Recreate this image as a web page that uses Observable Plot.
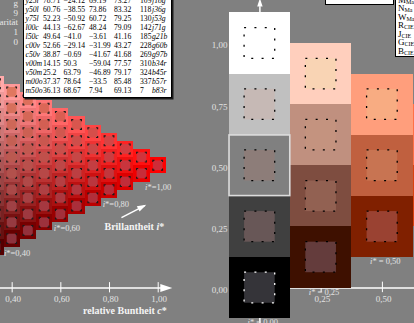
<!DOCTYPE html>
<html>
<head>
<meta charset="utf-8">
<script src="https://cdn.jsdelivr.net/npm/d3@7"></script>
<script src="https://cdn.jsdelivr.net/npm/@observablehq/plot@0.6"></script>
<style>
  html, body { margin: 0; padding: 0; background: #808080; }
  #chart { position: relative; width: 414px; height: 323px; overflow: hidden; background: #808080;
           font-family: "Liberation Serif", "DejaVu Serif", serif; }
  #chart svg { position: absolute; left: 0; top: 0; }
  .tbl { position: absolute; left: 23px; top: -5px; background: #fff; border: 1px solid #000;
         box-shadow: 1.5px 1.5px 0 #1a1a1a; padding: 0 2px 2px 1.5px; font-size: 7.7px; line-height: 9px; color: #000; }
  .tbl .row { display: grid; grid-template-columns: 17.5px 20.5px 25.5px 25px 26px 12px 17px; white-space: nowrap; }
  .tbl .code, .tbl .name { font-style: italic; }
  .legend { position: absolute; left: 395px; top: -5.5px; width: 40px; background: #fff; border: 1px solid #000;
            font-size: 9px; line-height: 8.5px; padding: 0 0 0.5px 2px; color: #000; }
  .legend sub { font-size: 6px; vertical-align: -1px; line-height: 0; }
  .topbox { position: absolute; left: 325px; top: -10px; width: 67px; height: 13px; background: #fff; border: 1px solid #000; }
  .frag { position: absolute; right: 396px; top: -1px; text-align: right; color: #e8e8e8; font-size: 9px; line-height: 9.7px; white-space: nowrap; }
</style>
</head>
<body>
<div id="chart"></div>
<script>
// ---------- hue triangle (CIE red), 15 steps of relative chroma c* ----------
const chromaLevels = [15, 14, 13, 12, 11, 10, 9, 8, 7, 6, 5]; // c* = level / 15
const triSteps = 15;
const redOuter = [255, 0, 0], whiteOuter = [255, 255, 255], blackOuter = [0, 0, 0];
const redInner = [206, 44, 56], whiteInner = [236, 170, 122], blackInner = [98, 54, 64];
const triTicks = [0.4, 0.6, 0.8, 1.0];
const iStarLabels = [1.0, 0.8, 0.6, 0.4];
const iStarLabelC = [1.0, 0.826, 0.625, 0.42];
const iStarLabelT = [0.411, 0.342, 0.243, 0.141];

// ---------- grey and orange-red series, 4 steps ----------
const patchC = [0, 0, 0, 0, 0, 0.25, 0.25, 0.25, 0.25, 0.5, 0.5, 0.5, 0.75, 0.75];
const patchT = [1, 0.75, 0.5, 0.25, 0, 0.875, 0.625, 0.375, 0.125, 0.75, 0.5, 0.25, 0.625, 0.375];
const patchFill = ["#ffffff", "#c0c0c0", "#808080", "#404040", "#000000",
                   "#ffcfbd", "#c0907f", "#7e4d40", "#3e1000",
                   "#ff9e7c", "#c0603f", "#802000",
                   "#ff7046", "#da4210"];
const patchInner = ["#ffffff", "#c6b9b5", "#8d7d79", "#685757", "#353439",
                    "#f9d4b4", "#c4937f", "#926152", "#643c3c",
                    "#f8ac82", "#c87452", "#9a4232",
                    "#f48456", "#c45434"];
const greyTicks = [0, 0.25, 0.5, 0.75, 1];
const seriesTicks = [0.25, 0.5];

// ---------- CIELAB table ----------
const rowCodes = ["y25l", "y50l", "y75l", "l00c", "l50c", "c00v", "c50v", "v00m", "v50m", "m00o", "m50o"];
const lStar = [78.71, 60.76, 52.23, 44.13, 49.64, 52.66, 38.87, 14.15, 25.2, 37.37, 36.13];
const aStar = [-24.12, -38.55, -50.92, -62.67, -41.0, -29.14, -0.69, 50.3, 63.79, 78.64, 68.67];
const bStar = [69.19, 73.86, 60.72, 48.24, -3.61, -31.99, -41.67, -59.04, -46.89, -33.5, 7.94];
const chroma = [73.27, 83.32, 79.25, 79.09, 41.16, 43.27, 41.68, 77.57, 79.17, 85.48, 69.13];
const hue = [109, 118, 130, 142, 185, 228, 269, 310, 324, 337, 7];
const hueNames = ["j18g", "j36g", "j53g", "j71g", "g21b", "g60b", "g97b", "b34r", "b45r", "b57r", "b83r"];

const legendMain = ["M", "N", "W", "R", "J", "G", "B"];
const legendSub = ["Ma", "Ma", "Ma", "CIE", "CIE", "CIE", "CIE"];
const sideNotes = ["g", "9", "Linearität", "1", "0"];

const serif = "Liberation Serif";
const mix = (a, b, k, wa, wb, wk) => d3.rgb(a[0]*wa + b[0]*wb + k[0]*wk, a[1]*wa + b[1]*wb + k[1]*wk, a[2]*wa + b[2]*wb + k[2]*wk).formatHex();
const comma = v => d3.format(".2f")(v).replace(".", ",");

// triangle lattice: chroma c, whiteness w, blackness n; lightness t = w + c/2
const triCells = chromaLevels.flatMap(level => {
  const j = triSteps - level;
  return d3.range(j + 1).map(i => {
    const c = level / triSteps, w = (j - i) / triSteps, n = i / triSteps;
    return {c, w, n, t: w + c / 2,
      outer: mix(redOuter, whiteOuter, blackOuter, c, w, n),
      inner: mix(redInner, whiteInner, blackInner, c, w, n)};
  });
});
const half = 0.5 / triSteps, innerHalf = 0.02;
const innerSide = 9.75; // px, used for the corner-mark dash pattern
const cornerDash = `1.6,${innerSide - 3.2},1.6,0`;

// filled arrow head; tip at the anchor point, pointing right before rotation
const arrowHead = {
  draw(context, size) {
    const r = Math.sqrt(size / Math.PI);
    const len = 2.4 * r, w = 0.8 * r;
    context.moveTo(0, 0);
    context.lineTo(-len, -w);
    context.lineTo(-len, w);
    context.closePath();
  }
};

const yScale = {domain: [0, 1], range: [287.5, 43], axis: null};
const textStyle = {fontFamily: serif, fill: "#e2e2e2", fontSize: 9, stroke: null};

const left = Plot.plot({
  width: 414, height: 323, margin: 0,
  style: {background: "transparent"},
  x: {domain: [0, 1], range: [-85.7, 157.7], axis: null},
  y: yScale,
  color: {type: "identity"},
  marks: [
    Plot.ruleY([0], {x1: 0.3, x2: 1.04, stroke: "#fff", strokeWidth: 1.3}),
    Plot.ruleX(triTicks, {y1: 0.022, y2: -0.02, stroke: "#fff", strokeWidth: 1}),
    Plot.dot([1.058], {x: d => d, y: 0, symbol: arrowHead, r: 5, fill: "#fff", stroke: null}),
    Plot.text(triTicks, {x: d => d, y: -0.047, dx: 1, text: d => comma(d), ...textStyle}),
    Plot.text(["relative Buntheit c*"], {x: 0.863, y: -0.095, text: d => d, ...textStyle, fill: "#f4f4f4", fontSize: 10, fontWeight: "bold"}),
    Plot.rect(triCells, {x1: d => d.c - half, x2: d => d.c + half, y1: d => d.t - half, y2: d => d.t + half,
      fill: "outer", shapeRendering: "crispEdges"}),
    Plot.rect(triCells, {x1: d => d.c - innerHalf, x2: d => d.c + innerHalf, y1: d => d.t - innerHalf, y2: d => d.t + innerHalf,
      fill: "inner", stroke: "#1a1a1a", strokeWidth: 1.1, strokeDasharray: cornerDash}),
    Plot.text(iStarLabels, {x: (d, i) => iStarLabelC[i], y: (d, i) => iStarLabelT[i], text: d => "i*=" + comma(d), ...textStyle, fontSize: 8.5}),
    Plot.link([{x1: 0.849, y1: 0.288, x2: 0.945, y2: 0.337}], {x1: "x1", y1: "y1", x2: "x2", y2: "y2", stroke: "#fff", strokeWidth: 1.5}),
    Plot.dot([{c: 0.951, t: 0.341}], {x: "c", y: "t", symbol: arrowHead, r: 3.8, rotate: -27.7, fill: "#fff", stroke: null}),
    Plot.text(["Brillantheit i*"], {x: 0.902, y: 0.252, text: d => d, ...textStyle, fill: "#f4f4f4", fontSize: 10, fontWeight: "bold"})
  ]
});

const patches = patchC.map((c, k) => ({c, t: patchT[k], fill: patchFill[k], inner: patchInner[k]}));
const bottoms = d3.rollups(patches, v => d3.min(v, d => d.t), d => d.c).filter(([c]) => c <= 0.5);

const right = Plot.plot({
  width: 414, height: 323, margin: 0,
  style: {background: "transparent"},
  x: {domain: [0, 1], range: [259.4, 504.4], axis: null},
  y: yScale,
  color: {type: "identity"},
  marks: [
    Plot.ruleX([0], {y1: -0.2, y2: 1.15, stroke: "#fff", strokeWidth: 1.5}),
    Plot.dot([0], {x: d => d, y: 1.185, symbol: arrowHead, r: 3.4, rotate: -90, fill: "#fff", stroke: null}),
    Plot.ruleY([0], {x1: 0, x2: 0.7, stroke: "#fff", strokeWidth: 1.3}),
    Plot.ruleX(seriesTicks, {y1: 0.024, y2: -0.019, stroke: "#fff", strokeWidth: 1}),
    Plot.rect(patches, {x1: d => d.c - 0.125, x2: d => d.c + 0.125, y1: d => d.t - 0.125, y2: d => d.t + 0.125,
      fill: "fill", shapeRendering: "crispEdges"}),
    Plot.rect(patches.filter(d => d.c === 0 && d.t === 0.5), {x1: d => d.c - 0.124, x2: d => d.c + 0.124, y1: d => d.t - 0.124, y2: d => d.t + 0.124,
      fill: null, stroke: "#dcdcdc", strokeWidth: 1.6}),
    Plot.rect(patches, {x1: d => d.c - 0.0625, x2: d => d.c + 0.0625, y1: d => d.t - 0.0625, y2: d => d.t + 0.0625,
      fill: "inner", stroke: d => d.fill === "#000000" ? "#fff" : "#000", strokeWidth: 1.3, strokeDasharray: "2,8.33"}),
    Plot.text(greyTicks, {x: -0.132, y: d => d, dy: 2, text: d => comma(d), textAnchor: "end", ...textStyle}),
    Plot.text(seriesTicks, {x: d => d + 0.005, y: -0.047, text: d => comma(d), ...textStyle}),
    Plot.text(bottoms, {x: d => d[0] + 0.012, y: d => d[1] - 0.142, text: d => "i* = " + comma(d[0]), ...textStyle, fontSize: 8.5})
  ]
});

// italic letter for the symbols c* and i*
function italicize(svg) {
  d3.select(svg).selectAll("text").each(function () {
    const s = this.textContent;
    if (!/[ci]\*/.test(s)) return;
    const el = d3.select(this).text(null);
    s.split(/([ci])(?=\*)/).forEach((part, k) => {
      if (part) el.append("tspan").attr("font-style", k % 2 ? "italic" : null).text(part);
    });
  });
}
italicize(left); italicize(right);

const root = document.getElementById("chart");
root.append(right, left);

const fmt = v => (Number.isInteger(v) ? v.toFixed(1) : String(v)).replace("-", "\u2212");
const tbl = d3.select(root).append("div").attr("class", "tbl");
rowCodes.forEach((code, k) => {
  const row = tbl.append("div").attr("class", "row");
  row.append("span").attr("class", "code").text(code);
  [lStar[k], aStar[k], bStar[k], chroma[k]].forEach(v => row.append("span").text(fmt(v)));
  row.append("span").text(hue[k]);
  row.append("span").attr("class", "name").text(hueNames[k]);
});

const legend = d3.select(root).append("div").attr("class", "legend");
legendMain.forEach((m, k) => {
  const line = legend.append("div");
  line.append("span").text(m);
  line.append("sub").text(legendSub[k]);
});

d3.select(root).append("div").attr("class", "topbox");
const notes = d3.select(root).append("div").attr("class", "frag");
sideNotes.forEach(s => notes.append("div").text(s));
</script>
</body>
</html>
